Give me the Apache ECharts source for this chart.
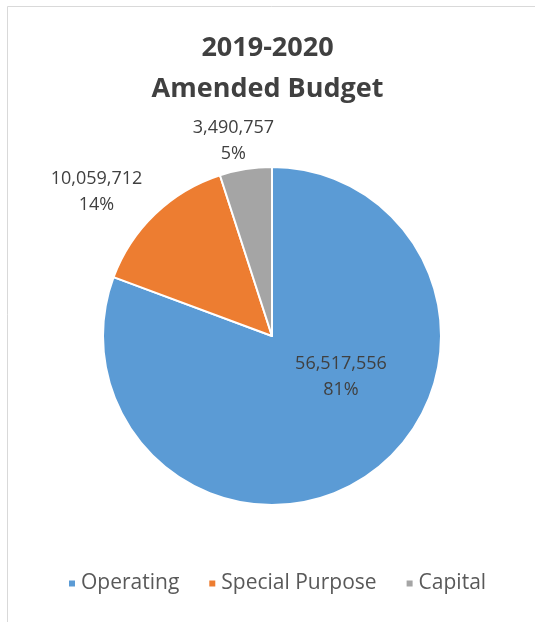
<!DOCTYPE html>
<html>
<head>
<meta charset="utf-8">
<script src="https://cdn.jsdelivr.net/npm/echarts@6/dist/echarts.min.js"></script>
<style>
  html, body { margin: 0; padding: 0; background: #ffffff; }
  #chart { width: 535px; height: 622px; }
</style>
</head>
<body>
<div id="chart"></div>
<script>
// Budget categories and amounts
const categories = ['Operating', 'Special Purpose', 'Capital'];
const amounts = [56517556, 10059712, 3490757];
const colors = ['#5B9BD5', '#ED7D31', '#A5A5A5'];
// Label offsets from the default inside anchor of each slice
const labelOffsets = [[19, -31], [-115, -81], [-25, -109]];

const FONT = '"Open Sans", "Noto Sans", sans-serif';

const pieData = categories.map((name, i) => ({
  name: name,
  value: amounts[i],
  itemStyle: { color: colors[i] },
  label: { offset: labelOffsets[i] }
}));

const chart = echarts.init(document.getElementById('chart'), null, { renderer: 'canvas' });
chart.setOption({
  backgroundColor: '#ffffff',
  animation: false,
  graphic: [{
    type: 'rect',
    shape: { x: 7.5, y: 6.5, width: 700, height: 800 },
    style: { fill: 'none', stroke: '#d9d9d9', lineWidth: 1 },
    silent: true
  }],
  title: {
    text: '2019-2020\nAmended Budget',
    left: 'center',
    top: 23,
    textStyle: {
      fontFamily: FONT,
      fontSize: 27,
      fontWeight: 'bold',
      color: '#404040',
      lineHeight: 41
    }
  },
  legend: {
    data: categories,
    bottom: 23,
    left: 62,
    icon: 'rect',
    itemWidth: 8,
    itemHeight: 8,
    itemGap: 28,
    textStyle: { fontFamily: FONT, fontSize: 21, color: '#595959' }
  },
  series: [{
    type: 'pie',
    center: [272, 336],
    radius: [0, 169],
    startAngle: 90,
    clockwise: true,
    data: pieData,
    itemStyle: { borderColor: '#ffffff', borderWidth: 2 },
    label: {
      position: 'inside',
      fontFamily: FONT,
      fontSize: 18,
      color: '#404040',
      lineHeight: 26,
      align: 'center',
      formatter: p => p.value.toLocaleString('en-US') + '\n' + Math.round(p.percent) + '%'
    },
    labelLine: { show: false },
    emphasis: { disabled: true }
  }]
});
</script>
</body>
</html>
